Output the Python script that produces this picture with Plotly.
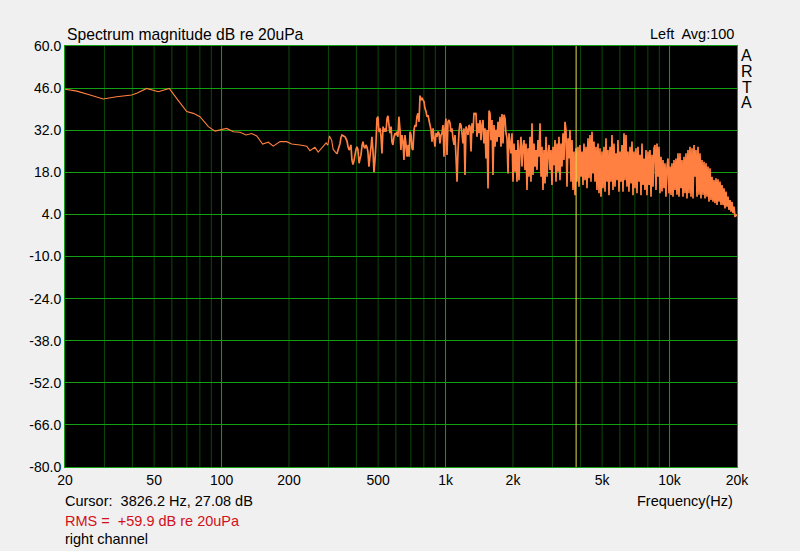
import math
import plotly.graph_objects as go

# ------------------------------------------------------------------
# Data (right channel, Avg:100)
# ------------------------------------------------------------------
# smooth low-frequency part (Hz, dB re 20uPa)
freq_low = [20, 22.6, 25.9, 29.6, 34.0, 39.7, 41.8, 46.3, 52.2, 58.4,
            63.0, 69.9, 74.8, 80.1, 87.3, 93.5, 105.4, 112.8, 120.8, 128.6,
            136.3, 143.5, 152.6, 161.6, 170.2, 182.3, 195.3, 205.6, 224, 240,
            248, 261, 270, 285, 293, 298, 303, 310, 315, 327]
level_low = [45.6, 45.0, 43.7, 42.4, 43.1, 43.7, 44.3, 45.9, 44.8, 45.9,
             42.6, 38.2, 37.6, 36.5, 33.2, 31.7, 32.6, 31.5, 31.3, 30.4,
             30.9, 30.1, 27.4, 28.0, 26.7, 28.2, 28.2, 27.4, 27.1, 26.7,
             25.2, 26.3, 24.7, 26.7, 27.8, 27.0, 30.1, 28.7, 25.6, 24.1]

# dense part, one reading per screen column (Hz, dB re 20uPa)
freq_dense = [
    338, 341, 345, 348, 352, 356, 359, 363, 367, 371,
    374, 378, 382, 386, 390, 394, 398, 402, 406, 411,
    415, 419, 424, 428, 432, 437, 441, 446, 450, 455,
    460, 465, 469, 474, 479, 484, 489, 494, 499, 504,
    510, 515, 520, 526, 531, 537, 542, 548, 553, 559,
    565, 571, 576, 582, 588, 595, 601, 607, 613, 619,
    626, 632, 639, 646, 652, 659, 666, 673, 680, 687,
    694, 701, 708, 715, 723, 730, 738, 745, 753, 761,
    769, 777, 785, 793, 801, 809, 818, 826, 835, 843,
    852, 861, 870, 879, 888, 897, 906, 916, 925, 935,
    944, 954, 964, 974, 984, 994, 1004, 1015, 1025, 1036,
    1047, 1057, 1068, 1079, 1091, 1102, 1113, 1125, 1136, 1148,
    1160, 1172, 1184, 1196, 1209, 1221, 1234, 1246, 1259, 1272,
    1286, 1299, 1312, 1326, 1339, 1353, 1367, 1381, 1396, 1410,
    1425, 1439, 1454, 1469, 1484, 1500, 1515, 1531, 1547, 1563,
    1579, 1595, 1612, 1628, 1645, 1662, 1679, 1697, 1714, 1732,
    1750, 1768, 1786, 1805, 1823, 1842, 1861, 1880, 1900, 1919,
    1939, 1959, 1979, 2000, 2021, 2042, 2063, 2084, 2105, 2127,
    2149, 2171, 2194, 2216, 2239, 2263, 2286, 2309, 2333, 2357,
    2382, 2406, 2431, 2456, 2482, 2507, 2533, 2559, 2586, 2613,
    2640, 2667, 2694, 2722, 2750, 2779, 2808, 2837, 2866, 2896,
    2925, 2956, 2986, 3017, 3048, 3080, 3112, 3144, 3176, 3209,
    3242, 3276, 3309, 3344, 3378, 3413, 3448, 3484, 3520, 3556,
    3593, 3630, 3668, 3706, 3744, 3783, 3822, 3861, 3901, 3941,
    3982, 4023, 4065, 4107, 4149, 4192, 4235, 4279, 4323, 4368,
    4413, 4459, 4505, 4551, 4598, 4646, 4694, 4742, 4791, 4841,
    4891, 4942, 4993, 5044, 5096, 5149, 5202, 5256, 5310, 5365,
    5420, 5476, 5533, 5590, 5648, 5706, 5765, 5825, 5885, 5946,
    6007, 6069, 6132, 6195, 6259, 6324, 6389, 6455, 6522, 6589,
    6658, 6726, 6796, 6866, 6937, 7009, 7081, 7154, 7228, 7303,
    7378, 7455, 7532, 7609, 7688, 7768, 7848, 7929, 8011, 8094,
    8177, 8262, 8347, 8433, 8520, 8609, 8697, 8787, 8878, 8970,
    9063, 9156, 9251, 9346, 9443, 9541, 9639, 9739, 9839, 9941,
    10044, 10148, 10252, 10358, 10465, 10574, 10683, 10793, 10905, 11017,
    11131, 11246, 11362, 11480, 11598, 11718, 11839, 11962, 12085, 12210,
    12336, 12464, 12592, 12722, 12854, 12987, 13121, 13257, 13394, 13532,
    13672, 13813, 13956, 14100, 14246, 14393, 14542, 14692, 14844, 14997,
    15152, 15309, 15467, 15627, 15788, 15951, 16116, 16283, 16451, 16621,
    16793, 16966, 17142, 17319, 17498, 17678, 17861, 18046, 18232, 18420,
    18611, 18803, 18997, 19194, 19392, 19592, 19794, 20000]
level_dense = [
    27.6, 29.5, 30.4, 30.2, 30.0, 29.8, 29.2, 28.4, 26.5, 25.4,
    26.0, 27.1, 22.1, 20.6, 21.8, 23.7, 25.5, 26.5, 25.6, 21.0,
    22.5, 23.7, 27.0, 28.2, 26.5, 26.0, 27.1, 26.3, 24.9, 19.9,
    23.5, 26.5, 29.8, 25.4, 18.0, 22.0, 27.6, 35.9, 36.5, 31.5,
    32.6, 29.8, 24.3, 33.2, 31.5, 32.6, 31.5, 35.9, 36.8, 33.7,
    31.0, 33.2, 28.2, 27.1, 29.8, 31.0, 30.4, 31.5, 29.8, 36.5,
    32.1, 25.4, 30.4, 28.2, 22.1, 30.4, 27.1, 23.2, 27.1, 23.2,
    31.5, 30.4, 26.0, 25.4, 32.1, 33.7, 33.2, 36.5, 37.6, 34.8,
    43.5, 42.0, 42.8, 42.0, 41.5, 39.3, 38.2, 36.5, 37.0, 35.4,
    33.7, 32.1, 28.2, 32.6, 29.3, 26.5, 31.0, 29.8, 31.5, 31.0,
    27.6, 30.4, 31.0, 33.7, 23.2, 32.6, 35.9, 23.8, 34.8, 35.4,
    34.3, 31.5, 32.6, 29.3, 27.1, 30.4, 23.2, 14.9, 24.9, 31.5,
    34.3, 33.7, 31.0, 27.6, 32.6, 17.1, 33.2, 32.1, 30.4, 33.7,
    33.2, 24.9, 34.3, 31.0, 37.8, 37.1, 37.8, 29.8, 34.3, 31.0,
    35.4, 28.7, 33.7, 35.4, 27.6, 32.6, 22.6, 32.1, 12.6, 38.5,
    37.6, 28.7, 35.4, 17.1, 33.7, 26.5, 32.1, 28.2, 34.8, 29.8,
    36.5, 26.5, 37.4, 27.6, 37.1, 36.0, 31.0, 29.3, 17.6, 31.0,
    27.6, 24.3, 31.0, 14.9, 27.6, 18.2, 25.4, 14.9, 28.7, 15.4,
    25.4, 29.8, 19.9, 26.5, 28.7, 18.8, 27.6, 12.1, 26.0, 16.5,
    29.8, 14.9, 34.3, 17.1, 27.6, 19.9, 25.4, 18.8, 28.7, 23.2,
    34.3, 16.5, 26.5, 12.1, 25.4, 14.3, 29.8, 16.5, 24.3, 27.1,
    18.8, 25.4, 13.8, 26.5, 20.4, 28.7, 14.9, 27.6, 18.2, 29.8,
    15.4, 27.6, 19.9, 31.0, 22.1, 34.8, 32.1, 13.2, 29.3, 22.6,
    32.1, 14.9, 28.7, 12.1, 24.9, 10.4, 26.0, 14.9, 26.5, 13.2,
    27.1, 16.5, 24.9, 13.8, 27.6, 15.4, 26.5, 12.7, 29.3, 16.0,
    30.4, 14.9, 31.5, 17.6, 28.2, 14.9, 26.5, 12.1, 27.6, 11.0,
    26.0, 9.9, 24.9, 12.7, 26.5, 11.5, 29.3, 14.9, 25.4, 10.4,
    26.5, 14.9, 30.4, 12.1, 27.6, 13.2, 24.3, 15.4, 28.7, 11.5,
    24.9, 14.9, 27.1, 11.5, 31.0, 15.4, 30.4, 13.2, 24.9, 11.5,
    26.5, 14.3, 28.2, 10.4, 24.9, 12.7, 26.0, 11.0, 26.5, 14.9,
    23.8, 10.4, 27.6, 13.8, 22.6, 12.1, 25.4, 10.4, 24.9, 13.8,
    25.4, 9.9, 23.8, 13.2, 26.0, 27.1, 12.1, 27.6, 16.5, 26.5,
    11.0, 23.2, 11.6, 22.1, 12.7, 21.0, 9.9, 19.9, 22.6, 11.0,
    19.9, 10.5, 21.0, 9.9, 22.1, 12.1, 22.6, 10.5, 24.3, 9.9,
    24.3, 12.7, 22.1, 9.9, 23.2, 11.0, 24.3, 9.3, 25.4, 11.0,
    26.5, 9.9, 26.0, 9.3, 27.1, 16.5, 25.4, 9.9, 26.5, 10.5,
    24.3, 9.3, 22.1, 10.5, 21.5, 9.3, 21.0, 9.9, 19.9, 8.2,
    19.3, 8.8, 16.5, 8.2, 15.4, 7.7, 16.0, 7.1, 15.7, 8.2,
    14.9, 7.1, 13.8, 7.1, 12.7, 6.0, 11.6, 6.6, 9.9, 5.5,
    8.8, 4.9, 8.2, 4.4, 6.6, 3.2, 3.8, 3.5]

# axes / grid
grid_freqs = [30, 40, 50, 60, 70, 80, 90,
              200, 300, 400, 500, 600, 700, 800, 900,
              2000, 3000, 4000, 5000, 6000, 7000, 8000, 9000]
decade_freqs = [100, 1000, 10000]
x_tick_vals = [20, 50, 100, 200, 500, 1000, 2000, 5000, 10000, 20000]
x_tick_text = ["20", "50", "100", "200", "500", "1k", "2k", "5k", "10k", "20k"]
y_ticks = [60, 46, 32, 18, 4, -10, -24, -38, -52, -66, -80]
y_tick_text = ["60.0", "46.0", "32.0", "18.0", "4.0", "-10.0", "-24.0",
               "-38.0", "-52.0", "-66.0", "-80.0"]

cursor_hz = 3826.2
cursor_db = 27.08
rms_db = 59.9

# ------------------------------------------------------------------
FONT = "Liberation Sans, Arial, sans-serif"
BRIGHT = "#12a012"
DARK = "#0a4a0a"
ORANGE = "#ff8040"

fig = go.Figure()

# spectrum: smooth part thin, dense part heavier so it fills like the original
fig.add_trace(go.Scatter(x=freq_low, y=level_low, mode="lines",
                         line=dict(color=ORANGE, width=1.1), hoverinfo="x+y"))
fig.add_trace(go.Scatter(x=freq_low[-1:] + freq_dense, y=level_low[-1:] + level_dense,
                         mode="lines",
                         line=dict(color=ORANGE, width=1.7, simplify=False),
                         hoverinfo="x+y"))

# cursor
fig.add_trace(go.Scatter(x=[cursor_hz, cursor_hz], y=[y_ticks[-1], y_ticks[0]],
                         mode="lines", line=dict(color="#e6d84a", width=1),
                         hoverinfo="skip"))

# vertical grid (shapes use data coords on log axes)
for f in grid_freqs:
    fig.add_shape(type="line", xref="x", yref="paper", x0=f, x1=f, y0=0, y1=1,
                  line=dict(color=DARK, width=1), layer="below")
for f in decade_freqs:
    fig.add_shape(type="line", xref="x", yref="paper", x0=f, x1=f, y0=0, y1=1,
                  line=dict(color=BRIGHT, width=1), layer="below")

fig.update_layout(
    width=800, height=551,
    margin=dict(l=65, r=63, t=46, b=84),
    paper_bgcolor="#f0f0f0",
    plot_bgcolor="black",
    showlegend=False,
    font=dict(family=FONT, size=14, color="black"),
)

fig.update_xaxes(
    type="log",
    range=[math.log10(20), math.log10(20000)],
    tickmode="array", tickvals=x_tick_vals, ticktext=x_tick_text,
    showgrid=False,
    showline=True, mirror=True, linecolor=BRIGHT, linewidth=1,
    ticks="", zeroline=False,
    tickfont=dict(family=FONT, size=14, color="black"),
)
fig.update_yaxes(
    range=[y_ticks[-1], y_ticks[0]],
    tickmode="array", tickvals=y_ticks, ticktext=y_tick_text,
    showgrid=True, gridcolor=BRIGHT, gridwidth=1,
    showline=True, mirror=True, linecolor=BRIGHT, linewidth=1,
    ticks="", zeroline=False,
    tickfont=dict(family=FONT, size=14, color="black"),
)

# text around the plot (paper coords: plot area spans 0..1)
def note(text, x, y, xanchor="left", color="black", size=14.5):
    fig.add_annotation(text=text, xref="paper", yref="paper", x=x, y=y,
                       xanchor=xanchor, yanchor="middle", showarrow=False,
                       font=dict(family=FONT, size=size, color=color))

note("Spectrum magnitude dB re 20uPa", 0.0, 1.0285, size=15.7)
note("Left\u00a0 Avg:100", 0.9985, 1.0285, xanchor="right")
for letter, yy in zip("ARTA", [0.9786, 0.9406, 0.9026, 0.8655]):
    note(letter, 1.0144, yy, xanchor="center", size=16)

note(f"Cursor:\u00a0 {cursor_hz} Hz, {cursor_db:.2f} dB", -0.003, -0.081)
note(f"RMS =\u00a0 +{rms_db} dB re 20uPa", -0.003, -0.128, color="#d01020")
note("right channel", -0.003, -0.171)
note("Frequency(Hz)", 0.997, -0.081, xanchor="right")

# the page itself should be flush and grey like the ARTA window
fig.write_html("out.html",
               config={"displayModeBar": False},
               post_script="document.body.style.margin='0';"
                           "document.body.style.background='#f0f0f0';")
